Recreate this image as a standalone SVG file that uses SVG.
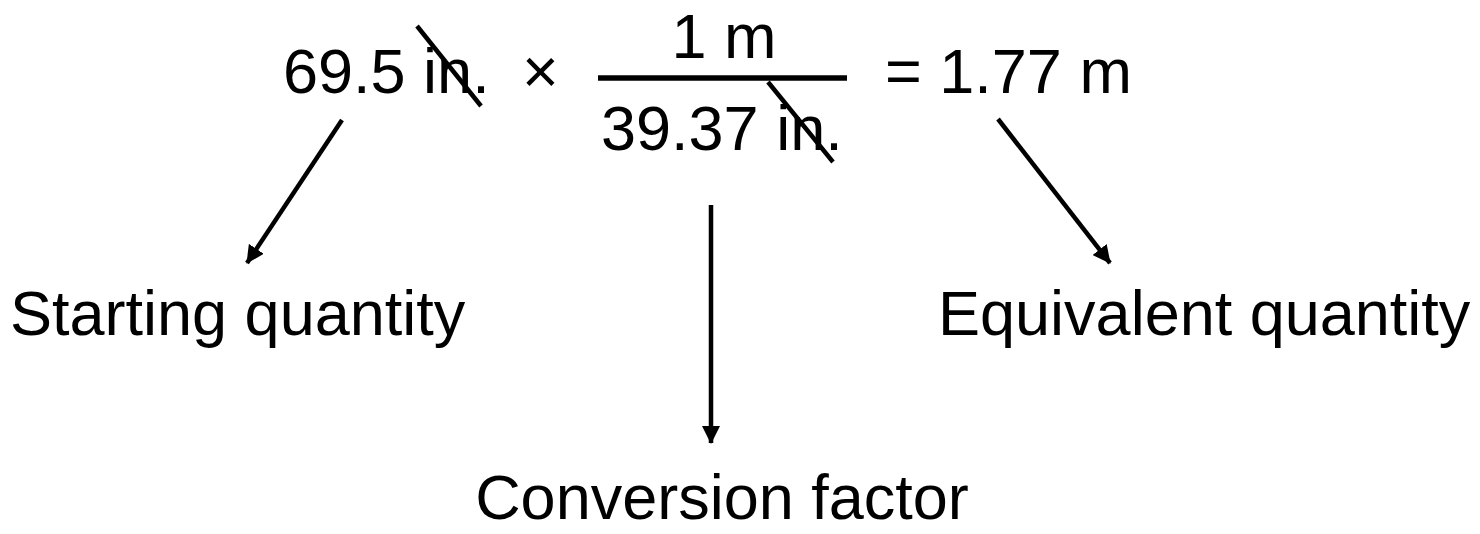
<svg xmlns="http://www.w3.org/2000/svg" width="1480" height="534" viewBox="0 0 1480 534">
<style>
text{font-family:"Liberation Sans",Arial,sans-serif;font-size:63px;fill:#000}
.ln{stroke:#000;stroke-width:4.5;fill:none}
.arr{stroke:#000;stroke-width:4.5;fill:none;marker-end:url(#ah)}
</style>
<defs>
<marker id="ah" markerUnits="userSpaceOnUse" markerWidth="18" markerHeight="18" refX="17" refY="9" orient="auto">
<path d="M0,0 L18,9 L0,18 Z" fill="#000"/>
</marker>
</defs>
<rect width="1480" height="534" fill="#fff"/>
<g id="equation">
<text x="283" y="93">69.5 in.</text>
<text x="522" y="93">×</text>
<line class="ln" x1="598" y1="78" x2="847" y2="78" style="stroke-width:5.5"/>
<text x="724" y="58" text-anchor="middle">1 m</text>
<text x="601" y="150">39.37 in.</text>
<text x="885" y="93">= 1.77 m</text>
<line class="ln" x1="417" y1="26" x2="481" y2="106"/>
<line class="ln" x1="768" y1="82" x2="833" y2="162"/>
</g>
<g id="connectors">
<line class="arr" x1="342" y1="120" x2="247" y2="263"/>
<line class="arr" x1="711" y1="205" x2="711" y2="443"/>
<line class="arr" x1="998" y1="119" x2="1110" y2="263"/>
</g>
<g id="starting"><text x="10" y="335">Starting quantity</text></g>
<g id="conversion"><text x="722" y="519" text-anchor="middle">Conversion factor</text></g>
<g id="equivalent"><text x="938" y="335">Equivalent quantity</text></g>
</svg>
